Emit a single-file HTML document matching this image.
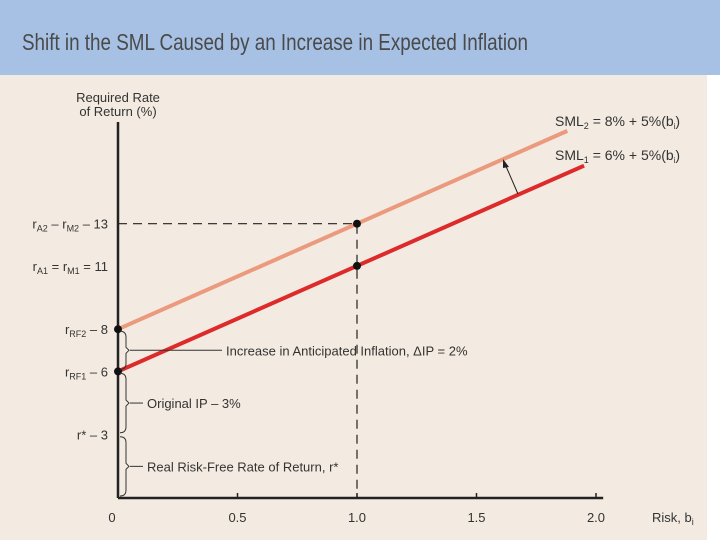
<!DOCTYPE html>
<html><head><meta charset="utf-8"><style>
html,body{margin:0;padding:0;}
body{width:720px;height:540px;overflow:hidden;background:#fff;font-family:"Liberation Sans",sans-serif;}
svg text{font-family:"Liberation Sans",sans-serif;fill:#333;}
</style></head><body>
<svg width="720" height="540">
<rect x="0" y="0" width="707" height="540" fill="#f3ebe1"/>
<rect x="0" y="0" width="720" height="75" fill="#a7c1e5"/>
<text x="22" y="50" font-size="23" textLength="506" lengthAdjust="spacingAndGlyphs" style="fill:#4a4a4a">Shift in the SML Caused by an Increase in Expected Inflation</text>
<text x="118" y="102" font-size="13" text-anchor="middle">Required Rate</text>
<text x="118" y="116" font-size="13" text-anchor="middle">of Return (%)</text>
<g id="g"></g>
</svg>
<script>
const xTicks=[0,0.5,1.0,1.5,2.0];
const xTickLabels=["0","0.5","1.0","1.5","2.0"];
const sml2=[8,5], sml1=[6,5];
const lineEnds=[1.88,1.95];
const NS="http://www.w3.org/2000/svg";
const X0=118,XS=239,Y0=498,YS=21.1;
const sx=b=>X0+b*XS, sy=r=>Y0-r*YS;
const g=document.getElementById('g');
function mk(t,a,p){const e=document.createElementNS(NS,t);for(const k in a)e.setAttribute(k,a[k]);(p||g).appendChild(e);return e;}
let e=mk('line',{x1:X0,y1:122,x2:X0,y2:Y0,stroke:'#222','stroke-width':2.5});


e=mk('line',{x1:X0,y1:Y0,x2:sx(2.03),y2:Y0,stroke:'#222','stroke-width':2.5});


xTicks.forEach((t,i)=>{
 if(t>0){const k=mk('line',{x1:sx(t),y1:Y0,x2:sx(t),y2:Y0-5,stroke:'#222','stroke-width':1.5});
 
 }
 const l=mk('text',{x:sx(t)-(t==0?6:0),y:522,'font-size':13,'text-anchor':'middle'});l.textContent=xTickLabels[i];
 
 
});
e=mk('text',{x:652,y:522,'font-size':13});e.innerHTML='Risk, b<tspan font-size="9" dy="3">i</tspan>';


const r2=sml2[0]+sml2[1]*1, r1=sml1[0]+sml1[1]*1;
e=mk('path',{d:`M${X0} ${sy(r2)}H${sx(1)}V${Y0}`,stroke:'#222','stroke-width':1.2,fill:'none','stroke-dasharray':'9,6'});


[[sml2,lineEnds[0],'#ec9a7e','sml2-line'],[sml1,lineEnds[1],'#dd2a2a','sml1-line']].forEach(([s,end,c,n])=>{
 const l=mk('line',{x1:sx(0),y1:sy(s[0]),x2:sx(end),y2:sy(s[0]+s[1]*end),stroke:c,'stroke-width':4});
 
 
});
[[0,sml2[0]],[0,sml1[0]],[1,r2],[1,r1]].forEach(p=>{
 const c=mk('circle',{cx:sx(p[0]),cy:sy(p[1]),r:4,fill:'#111'});
 
 
});
e=mk('line',{x1:518,y1:194,x2:505,y2:164,stroke:'#222','stroke-width':1});


mk('path',{d:'M503 159 L509 167 L503 168 Z',fill:'#222'});
const yl=[[13,'r<tspan font-size="9" dy="3">A2</tspan><tspan dy="-3"> – r</tspan><tspan font-size="9" dy="3">M2</tspan><tspan dy="-3"> – 13</tspan>'],
[11,'r<tspan font-size="9" dy="3">A1</tspan><tspan dy="-3"> = r</tspan><tspan font-size="9" dy="3">M1</tspan><tspan dy="-3"> = 11</tspan>'],
[8,'r<tspan font-size="9" dy="3">RF2</tspan><tspan dy="-3"> – 8</tspan>'],
[6,'r<tspan font-size="9" dy="3">RF1</tspan><tspan dy="-3"> – 6</tspan>'],
[3,'r* – 3']];
yl.forEach(([v,h])=>{const t=mk('text',{x:108,y:sy(v)+5,'font-size':13,'text-anchor':'end'});t.innerHTML=h;
 
 });
const br=(a,b)=>{const m=(sy(a)+sy(b))/2;mk('path',{d:`M${X0+2} ${sy(a)+2} q6 0 6 6 V${m-3} l3 3 l-3 3 V${sy(b)-8} q0 6 -6 6`,stroke:'#333',fill:'none','stroke-width':1});return m;};
const m1=br(8,6),m2=br(6,3),m3=br(3,0);
const ann=[[m1,'Increase in Anticipated Inflation, ΔIP = 2%',222],[m2,'Original IP – 3%',143],[m3,'Real Risk-Free Rate of Return, r*',143]];
ann.forEach(([y,s,x])=>{mk('line',{x1:130,y1:y,x2:x,y2:y,stroke:'#333','stroke-width':1});
 const t=mk('text',{x:x+4,y:y+5,'font-size':13});t.textContent=s;
 
 });
[[555,126,'SML<tspan font-size="9" dy="3">2</tspan><tspan dy="-3"> = 8% + 5%(b</tspan><tspan font-size="8" dy="3">i</tspan><tspan dy="-3">)</tspan>','sml2-label'],
 [555,160,'SML<tspan font-size="9" dy="3">1</tspan><tspan dy="-3"> = 6% + 5%(b</tspan><tspan font-size="8" dy="3">i</tspan><tspan dy="-3">)</tspan>','sml1-label']].forEach(([x,y,h,n])=>{
 const t=mk('text',{x:x,y:y,'font-size':14});t.innerHTML=h;
 
 });
</script>
</body></html>
